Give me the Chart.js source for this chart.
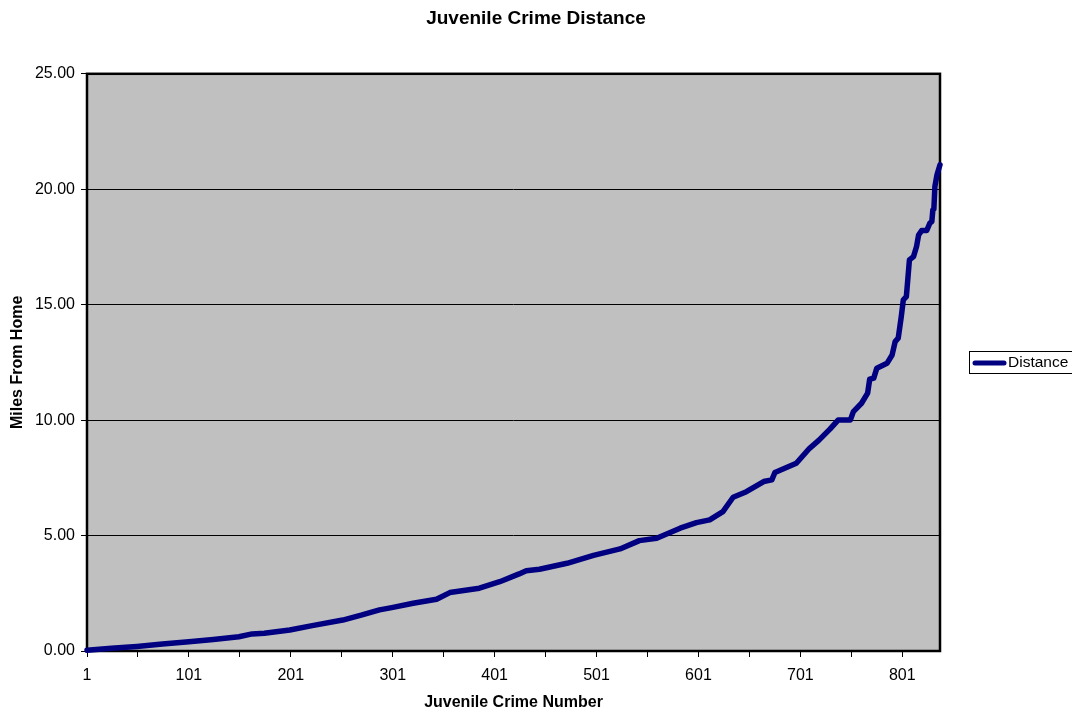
<!DOCTYPE html>
<html>
<head>
<meta charset="utf-8">
<title>Juvenile Crime Distance</title>
<script src="https://cdn.jsdelivr.net/npm/chart.js@4/dist/chart.umd.min.js"></script>
<style>
  html, body { margin: 0; padding: 0; background: #fff; }
</style>
</head>
<body>
<canvas id="crimeChart" width="1072" height="711"></canvas>
<script>
// Crime number (x) and distance from home in miles (y)
const crimeNumber = [1, 25, 50, 75, 101, 125, 150, 163, 175, 200, 222, 252, 270, 288, 300,
  321, 344, 357, 386, 406, 425, 432, 445, 472, 485, 498, 524, 543, 560, 583, 599, 612, 625,
  635, 648, 665, 673, 676, 697, 710, 719, 730, 738, 750, 753, 761, 767, 769, 773, 776, 786,
  791, 794, 797, 800, 802, 805, 808, 812, 815, 817, 820, 825, 828, 830, 831, 832, 833, 835, 838];
const distanceMiles = [0.03, 0.12, 0.20, 0.30, 0.40, 0.50, 0.62, 0.74, 0.77, 0.91, 1.10, 1.34, 1.55, 1.78, 1.88,
  2.07, 2.24, 2.53, 2.72, 3.00, 3.34, 3.48, 3.54, 3.80, 3.97, 4.14, 4.42, 4.78, 4.88, 5.32, 5.56, 5.68, 6.04,
  6.66, 6.90, 7.34, 7.41, 7.73, 8.13, 8.78, 9.12, 9.61, 10.00, 10.00, 10.37, 10.73, 11.17, 11.77, 11.82, 12.25, 12.46,
  12.82, 13.40, 13.55, 14.48, 15.21, 15.35, 16.94, 17.08, 17.52, 18.02, 18.21, 18.21, 18.53, 18.60, 19.11, 19.14, 20.12, 20.62, 21.06];

const xTickValues = [1, 51, 101, 151, 201, 251, 301, 351, 401, 451, 501, 551, 601, 651, 701, 751, 801];
const xLabelValues = [1, 101, 201, 301, 401, 501, 601, 701, 801];
const yTickValues = [0, 5, 10, 15, 20, 25];

const FONT = 'Liberation Sans, Arial, Helvetica, sans-serif';
const LINE_COLOR = '#000080';

// grey plot area and its black frame
const plotFrame = {
  id: 'plotFrame',
  beforeDraw(chart) {
    const { ctx, chartArea: a } = chart;
    ctx.save();
    ctx.fillStyle = '#c0c0c0';
    ctx.fillRect(a.left, a.top, a.right - a.left, a.bottom - a.top);
    ctx.restore();
  },
  beforeDatasetsDraw(chart) {
    const { ctx, chartArea: a } = chart;
    ctx.save();
    ctx.strokeStyle = '#000';
    ctx.lineWidth = 2.5;
    ctx.strokeRect(a.left, a.top, a.right - a.left, a.bottom - a.top);
    ctx.restore();
  }
};

// Excel style boxed legend at the right edge
const boxLegend = {
  id: 'boxLegend',
  afterDraw(chart) {
    const ctx = chart.ctx;
    const y = 363;
    ctx.save();
    ctx.strokeStyle = '#000';
    ctx.lineWidth = 1;
    ctx.strokeRect(969.5, 351.5, 120, 22);
    ctx.strokeStyle = LINE_COLOR;
    ctx.lineWidth = 5;
    ctx.lineCap = 'round';
    ctx.beginPath();
    ctx.moveTo(975, y);
    ctx.lineTo(1004, y);
    ctx.stroke();
    ctx.fillStyle = '#000';
    ctx.font = '15.5px ' + FONT;
    ctx.textBaseline = 'middle';
    ctx.fillText(chart.data.datasets[0].label, 1008, y);
    ctx.restore();
  }
};

window.onload = function () {
  const ctx = document.getElementById('crimeChart').getContext('2d');
  new Chart(ctx, {
    type: 'line',
    data: {
      datasets: [{
        label: 'Distance',
        data: crimeNumber.map((n, i) => ({ x: n, y: distanceMiles[i] })),
        borderColor: LINE_COLOR,
        backgroundColor: LINE_COLOR,
        borderWidth: 5.5,
        borderJoinStyle: 'round',
        borderCapStyle: 'round',
        pointRadius: 0,
        tension: 0,
        clip: false
      }]
    },
    options: {
      responsive: false,
      animation: false,
      layout: { padding: 0 },
      plugins: {
        legend: { display: false },
        tooltip: { enabled: false },
        title: {
          display: true,
          text: 'Juvenile Crime Distance',
          color: '#000',
          font: { family: FONT, size: 19, weight: 'bold', lineHeight: 1.2 },
          padding: { top: 7, bottom: 44 }
        }
      },
      scales: {
        x: {
          type: 'linear',
          min: 1,
          max: 838,
          afterBuildTicks: s => { s.ticks = xTickValues.map(v => ({ value: v })); },
          afterFit: s => { s.height = 60; },
          border: { display: false },
          grid: { drawOnChartArea: false, color: '#000', tickLength: 6, tickWidth: 1 },
          ticks: {
            autoSkip: false,
            maxRotation: 0,
            padding: 9,
            color: '#000',
            font: { family: FONT, size: 16 },
            callback: v => xLabelValues.includes(v) ? String(v) : ''
          },
          title: {
            display: true,
            text: 'Juvenile Crime Number',
            color: '#000',
            font: { family: FONT, size: 16, weight: 'bold', lineHeight: 1 },
            padding: { top: 0, bottom: 0 }
          }
        },
        y: {
          min: 0,
          max: 25,
          afterBuildTicks: s => { s.ticks = yTickValues.map(v => ({ value: v })); },
          afterFit: s => { s.width = 87; },
          border: { display: false },
          grid: { color: '#000', lineWidth: 1, tickLength: 6 },
          ticks: {
            padding: 6,
            color: '#000',
            font: { family: FONT, size: 16 },
            callback: v => Number(v).toFixed(2)
          },
          title: {
            display: true,
            text: 'Miles From Home',
            color: '#000',
            font: { family: FONT, size: 16, weight: 'bold', lineHeight: 1 },
            padding: { top: 10, bottom: 0 }
          }
        },
        // empty right-hand strip that leaves room for the legend
        legendSpace: {
          position: 'right',
          min: 0,
          max: 25,
          afterFit: s => { s.width = 132; },
          border: { display: false },
          grid: { drawOnChartArea: false, drawTicks: false },
          ticks: { display: false }
        }
      }
    },
    plugins: [plotFrame, boxLegend]
  });
};
</script>
</body>
</html>
